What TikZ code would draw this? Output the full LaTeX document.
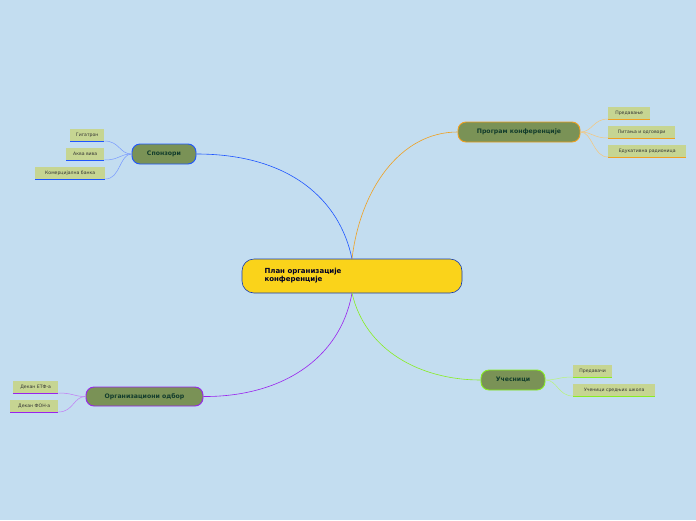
\documentclass[tikz,border=0pt]{standalone}
\usepackage{fontspec}
\setmainfont{DejaVu Sans}
\definecolor{bg}{HTML}{C3DDF0}
\definecolor{topicfill}{HTML}{7A9256}
\definecolor{topictext}{HTML}{123C2C}
\definecolor{leaffill}{HTML}{C6D592}
\definecolor{cspon}{HTML}{1E55FF}
\definecolor{cprog}{HTML}{F0A020}
\definecolor{cuc}{HTML}{88EE22}
\definecolor{corg}{HTML}{9922EE}
\definecolor{cmain}{HTML}{FAD31A}
\tikzset{
  topic/.style={draw=#1, line width=0.9pt, fill=topicfill, rounded corners=8pt,
    text=topictext, font=\bfseries\fontsize{6.2}{7}\selectfont, inner sep=0pt},
  leaf/.style={fill=leaffill, font=\fontsize{4.6}{5}\selectfont, inner sep=0pt,
    text=black!80, anchor=south west},
  link/.style={draw=#1, line width=0.6pt},
  twig/.style={draw=#1!60, line width=0.5pt}
}
\newcommand{\leafnode}[6]{% name, x1, y1, x2, y2, colour, text
  \node[leaf, minimum width=#4-#2, minimum height=12, text width=#4-#2-7, align=left] (#1) at (#2,#3) {};
}
\begin{document}
\begin{tikzpicture}[x=1pt,y=-1pt]
  \fill[bg] (0,0) rectangle (696,520);
  \useasboundingbox (0,0) rectangle (696,520);

  % centre
  \node[draw=cspon!70!black, line width=0.6pt, fill=cmain, rounded corners=12pt,
    minimum width=220, minimum height=34, inner sep=0pt] (main) at (352,276) {};
  \node[anchor=west, align=left, font=\bfseries\fontsize{7}{8}\selectfont, text=black!85!blue]
    (maintxt) at (261,276) {План организације\\конференције};

  % topics
  \node[topic=cspon, minimum width=64, minimum height=20] (spon) at (164,154) {Спонзори};
  \node[topic=cprog, minimum width=122, minimum height=20] (prog) at (519,132) {Програм конференције};
  \node[topic=cuc, minimum width=64, minimum height=20] (uc) at (513,380) {Учесници};
  \node[topic=corg, minimum width=117, minimum height=19] (org) at (144.5,396.5) {Организациони одбор};

  \draw[link=cspon] (352,259) .. controls (340,200) and (290,154) .. (spon.east);
  \draw[link=cprog] (352,259) .. controls (360,190) and (400,132) .. (prog.west);
  \draw[link=corg] (352,293) .. controls (340,360) and (280,397) .. (org.east);
  \draw[link=cuc] (352,293) .. controls (365,350) and (420,380) .. (uc.west);

  % leaves: name/x1/x2/ybottom/colour/parent/text
  \foreach \n/\xa/\xb/\yb/\c/\p/\t in {
      s1/70/104/141/cspon/spon/Гигатрон,
      s2/66/104/160/cspon/spon/Аква вива,
      s3/35/105/179/cspon/spon/Комерцијална банка,
      o1/13/58/393/corg/org/Декан ЕТФ-а,
      o2/10/58/412/corg/org/Декан ФОН-а} {
    \node[leaf, minimum width=\xb-\xa, minimum height=12] (\n) at (\xa,\yb) {\t};
    \draw[\c, line width=0.8pt] (\n.south west) -- (\n.south east);
    \draw[twig=\c] (\n.south east) .. controls +(15,0) and +(-12,0) .. (\p.west);
  }
  \foreach \n/\xa/\xb/\yb/\c/\p/\t in {
      p1/608/650/119/cprog/prog/Предавање,
      p2/608/675/138/cprog/prog/Питања и одговори,
      p3/608/686/157/cprog/prog/Едукативна радионица,
      u1/573/612/377/cuc/uc/Предавачи,
      u2/573/655/396/cuc/uc/Ученици средњих школа} {
    \node[leaf, minimum width=\xb-\xa, minimum height=12] (\n) at (\xa,\yb) {\t};
    \draw[\c, line width=0.8pt] (\n.south west) -- (\n.south east);
    \draw[twig=\c] (\p.east) .. controls +(12,0) and +(-15,0) .. (\n.south west);
  }
\end{tikzpicture}
\end{document}
